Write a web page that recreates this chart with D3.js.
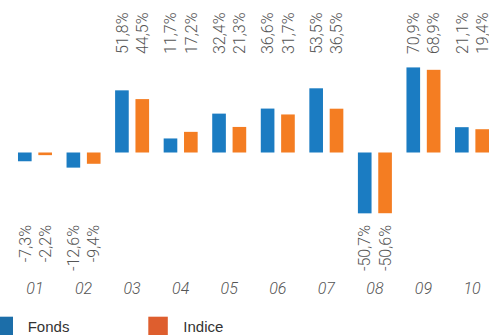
<!DOCTYPE html>
<html>
<head>
<meta charset="utf-8">
<script src="https://cdn.jsdelivr.net/npm/d3@7"></script>
<style>
  html, body { margin: 0; padding: 0; background: #fff; overflow: hidden; }
  svg { display: block; }
</style>
</head>
<body>
<svg id="chart" width="489" height="335"></svg>
<script>
const categories = ["01", "02", "03", "04", "05", "06", "07", "08", "09", "10"];
const seriesNames = ["Fonds", "Indice"];
const fondsValues = [-7.3, -12.6, 51.8, 11.7, 32.4, 36.6, 53.5, -50.7, 70.9, 21.1];
const indiceValues = [-2.2, -9.4, 44.5, 17.2, 21.3, 31.7, 36.5, -50.6, 68.9, 19.4];
const barColors = ["#1b7cc2", "#f47d22"];
const legendColors = ["#1c6ea9", "#de5e2e"];

const seriesValues = [fondsValues, indiceValues];
const data = categories.map((c, i) => ({
  cat: c,
  vals: seriesNames.map((s, j) => ({ series: s, idx: j, value: seriesValues[j][i] }))
}));

const svg = d3.select("#chart");

const x0 = d3.scaleBand().domain(categories).range([10.7, 496.3])
  .paddingInner(0.3).paddingOuter(0.15);
const x1 = d3.scaleBand().domain(seriesNames).range([0, x0.bandwidth()])
  .paddingInner(0.33);
const y = d3.scaleLinear().domain([-60, 80]).range([224.5, 56.5]);

const fmt = v => d3.format(".1f")(v).replace(".", ",").replace("−", "-") + "%";

const groups = svg.append("g").selectAll("g").data(data).join("g")
  .attr("transform", d => `translate(${x0(d.cat)},0)`);

groups.selectAll("rect").data(d => d.vals).join("rect")
  .attr("x", d => x1(d.series))
  .attr("width", x1.bandwidth())
  .attr("y", d => Math.min(y(d.value), y(0)))
  .attr("height", d => Math.abs(y(d.value) - y(0)))
  .attr("fill", d => barColors[d.idx]);

const labelFont = "Roboto, 'Open Sans', sans-serif";

groups.selectAll("text.val").data(d => d.vals).join("text")
  .attr("class", "val")
  .attr("transform", d => {
    const cx = x1(d.series) + x1.bandwidth() / 2;
    const yy = d.value >= 0 ? 54 : 225;
    return `translate(${cx},${yy}) rotate(-90)`;
  })
  .attr("dy", "0.36em")
  .attr("text-anchor", d => d.value >= 0 ? "start" : "end")
  .style("font-family", labelFont)
  .style("font-weight", 300)
  .style("font-size", "16px")
  .style("fill", "#555")
  .text(d => fmt(d.value));

// category axis labels
const xAxis = d3.axisBottom(x0).tickSize(0).tickPadding(0);
const axisG = svg.append("g").attr("transform", "translate(0,283)").call(xAxis);
axisG.select(".domain").remove();
axisG.selectAll("text")
  .attr("dy", "0.71em")
  .style("font-family", labelFont)
  .style("font-weight", 300)
  .style("font-style", "italic")
  .style("font-size", "16px")
  .style("fill", "#555");

// legend
const legendX = [-6.5, 148.3];
const legend = svg.append("g").selectAll("g").data(seriesNames).join("g")
  .attr("transform", (d, i) => `translate(${legendX[i]},316.7)`);
legend.append("rect")
  .attr("width", 19.5).attr("height", 19.5)
  .attr("fill", (d, i) => legendColors[i]);
legend.append("text")
  .attr("x", (d, i) => i === 0 ? 34.2 : 35)
  .attr("y", 15.5)
  .style("font-family", "'Liberation Sans', Arial, sans-serif")
  .style("font-size", "15px")
  .style("fill", "#333")
  .text(d => d);
</script>
</body>
</html>
